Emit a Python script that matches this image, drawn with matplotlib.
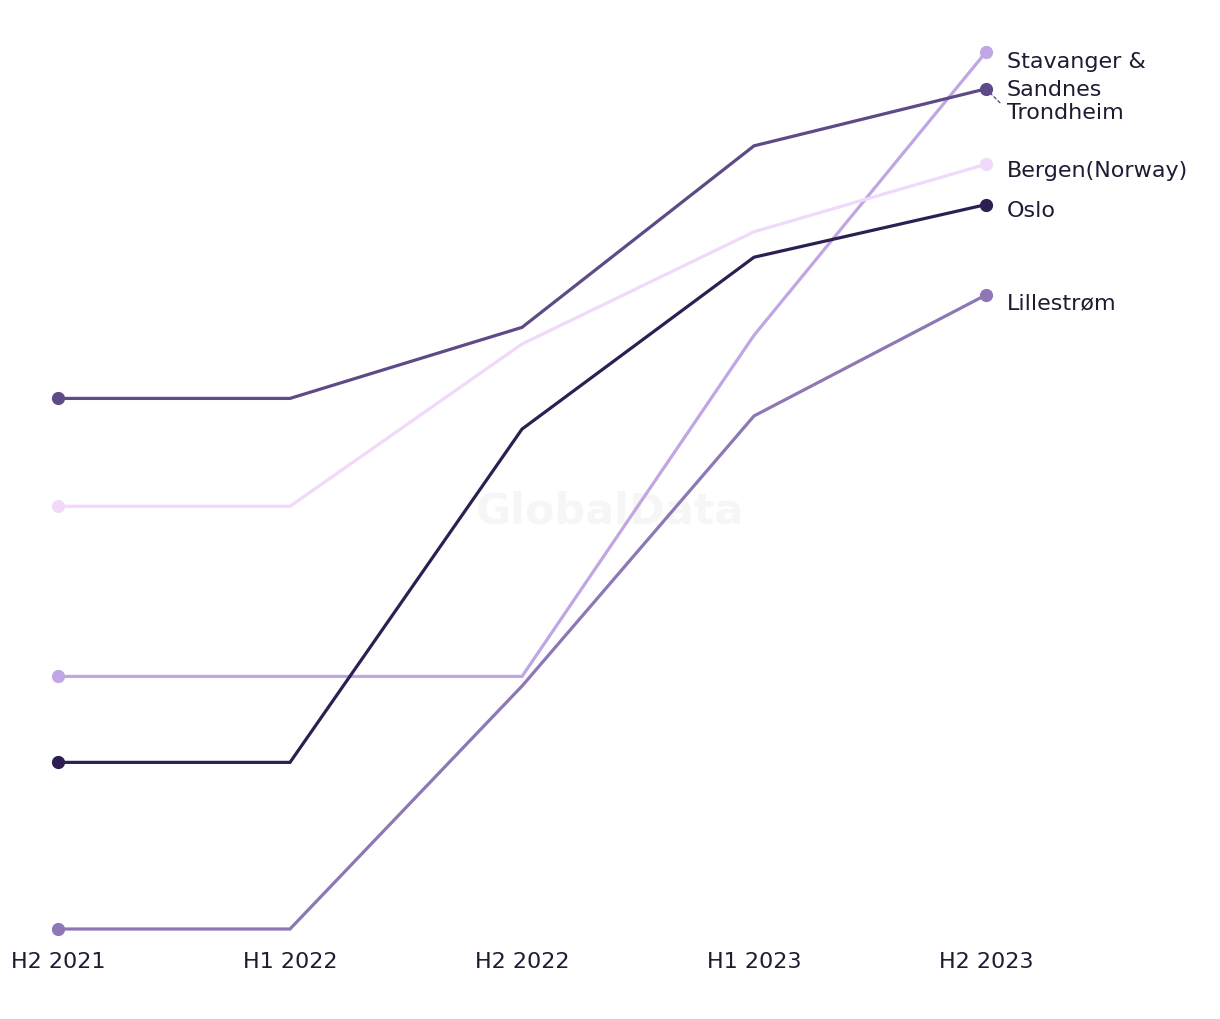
import matplotlib
matplotlib.use("Agg")
import matplotlib.pyplot as plt

# ── Data (relative index) ────────────────────────────────────────────────────
periods = ["H2 2021", "H1 2022", "H2 2022", "H1 2023", "H2 2023"]

stavanger  = [28.8, 28.8, 28.8, 67.7, 100.0]
trondheim  = [60.5, 60.5, 68.6, 89.3, 95.8]
bergen     = [48.2, 48.2, 66.7, 79.5, 87.2]
oslo       = [19.0, 19.0, 57.0, 76.6, 82.6]
lillestrom = [0.0, 0.0, 27.7, 58.5, 72.3]

series_names = ["Stavanger &\nSandnes", "Trondheim", "Bergen(Norway)", "Oslo", "Lillestrøm"]
series_values = [stavanger, trondheim, bergen, oslo, lillestrom]
series_colours = ["#c0a6e3", "#5e4a86", "#f0d9fb", "#2e1f52", "#8e77b5"]

# label offsets (points) so that crowded end labels don't overlap
label_dy = [-16.5, -17, -4, -4, -5]

TEXT = "#1e1b33"

fig = plt.figure(figsize=(12.2, 10.2), dpi=100)
ax = fig.add_axes([58 / 1220, 90 / 1020, (986 - 58) / 1220, (930 - 53) / 1020])

x = list(range(len(periods)))

# watermark
ax.text((610 - 58) / 928, (1020 - 512 - 90) / (930 - 53), "GlobalData",
        transform=ax.transAxes, ha="center", va="center", fontsize=31,
        fontweight="bold", color="#f6f6f6", zorder=0)

for name, vals, col, dy in zip(series_names, series_values, series_colours, label_dy):
    ax.plot(x, vals, color=col, lw=2.3, solid_joinstyle="miter", clip_on=False, zorder=2)
    ax.plot([x[0], x[-1]], [vals[0], vals[-1]], "o", color=col, ms=8.5,
            clip_on=False, zorder=3)
    ax.annotate(name, xy=(x[-1], vals[-1]), xytext=(15, dy),
                textcoords="offset points", ha="left", va="center",
                fontsize=16, color=TEXT, linespacing=1.45,
                annotation_clip=False)

# small dashed leader for the pushed-down Trondheim label
ax.annotate("", xy=(x[-1], trondheim[-1]), xytext=(10, -10),
            textcoords="offset points",
            arrowprops=dict(arrowstyle="-", color=series_colours[1], lw=1,
                            linestyle=(0, (2, 2)), shrinkA=0, shrinkB=5),
            annotation_clip=False)

ax.set_xlim(0, 4)
ax.set_ylim(0, 100)
ax.set_xticks(x)
ax.set_xticklabels(periods, fontsize=16, color=TEXT)
ax.tick_params(axis="x", length=0, pad=16)
ax.set_yticks([])
for s in ax.spines.values():
    s.set_visible(False)

fig.savefig("out.png", dpi=100, facecolor="white")
